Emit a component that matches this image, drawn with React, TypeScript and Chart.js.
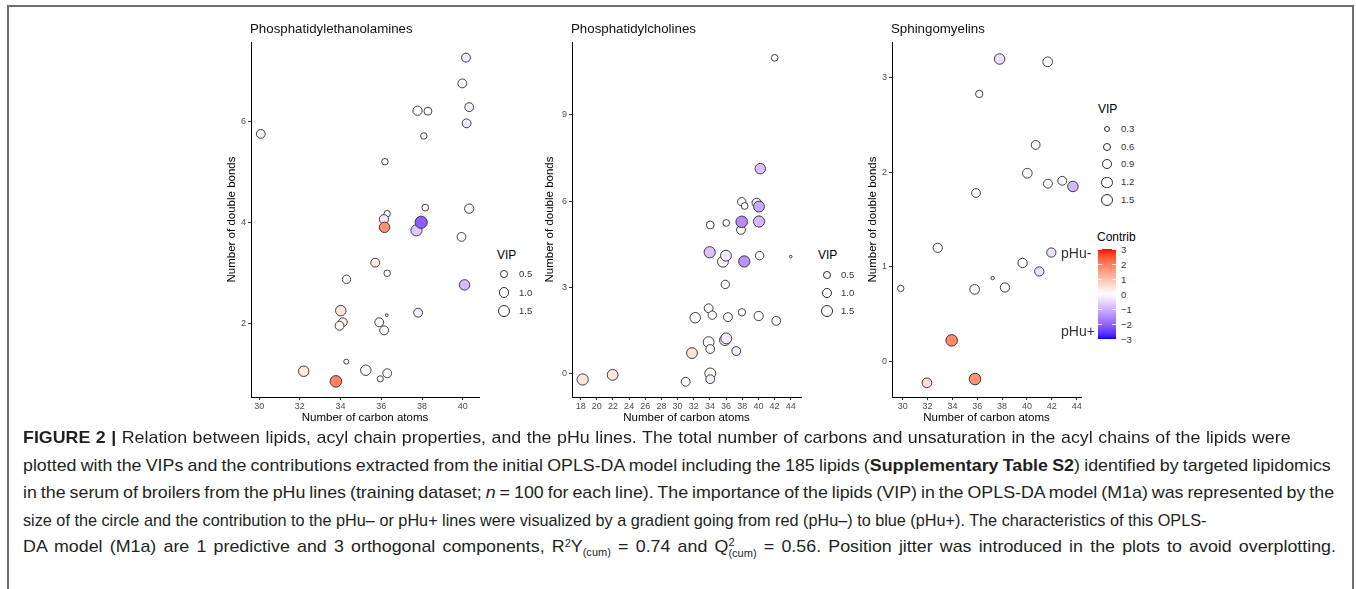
import React, { useEffect, useLayoutEffect, useRef } from "react";
import { Chart, registerables } from "chart.js";

Chart.register(...registerables);

const FONT = "'Liberation Sans', Arial, Helvetica, sans-serif";

// ---------------- Phosphatidylethanolamines ----------------
const peCarbons = [40.16, 39.98, 37.78, 38.29, 40.32, 40.19, 30.08, 38.09, 36.18, 38.16, 40.32, 36.29, 36.13, 36.16, 37.73, 37.96, 39.94, 35.7, 36.29, 34.29, 40.09, 34.01, 37.81, 36.27, 34.11, 33.95, 35.9, 36.14, 34.28, 32.19, 35.24, 36.29, 35.95, 33.77];
const peDoubleBonds = [7.27, 6.76, 6.22, 6.21, 6.29, 5.97, 5.76, 5.72, 5.21, 4.3, 4.28, 4.18, 4.07, 3.91, 3.85, 4.01, 3.72, 3.21, 3.0, 2.88, 2.77, 2.26, 2.22, 2.17, 2.03, 1.96, 2.03, 1.87, 1.25, 1.06, 1.08, 1.02, 0.91, 0.86];
const peVip = [0.9, 0.9, 1.0, 0.7, 0.9, 0.9, 0.9, 0.45, 0.45, 0.5, 1.0, 0.45, 1.0, 1.3, 1.5, 1.8, 0.9, 0.9, 0.45, 0.8, 1.3, 1.3, 0.9, 0.06, 0.9, 0.9, 0.9, 0.9, 0.25, 1.3, 1.3, 0.9, 0.4, 1.6];
const peContrib = [-0.3, 0, 0, 0, -0.2, -0.25, -0.2, 0, 0, 0, 0, 0, -0.3, 1.7, -0.7, -2.1, 0, 0.3, 0, 0, -0.9, 0.4, -0.2, 0, 0.3, 0, 0, 0, 0, 0.35, 0.15, 0, 0, 1.9];
const peXTicks = [30, 32, 34, 36, 38, 40];
const peYTicks = [2, 4, 6];
const peVipBreaks = [0.5, 1.0, 1.5];
const peVipLabels = ["0.5", "1.0", "1.5"];

// ---------------- Phosphatidylcholines ----------------
const pcCarbons = [42.01, 40.23, 37.93, 38.3, 39.78, 40.07, 34.04, 36.02, 37.84, 37.93, 40.07, 33.97, 35.61, 35.98, 38.25, 40.15, 44.0, 35.9, 33.84, 34.29, 32.18, 36.23, 37.96, 40.03, 42.21, 33.84, 35.86, 36.02, 34.04, 37.26, 31.78, 18.25, 21.96, 31.0, 34.04, 34.04];
const pcDoubleBonds = [10.99, 7.13, 5.98, 5.83, 5.94, 5.81, 5.17, 5.24, 5.0, 5.28, 5.29, 4.22, 3.89, 4.1, 3.9, 4.1, 4.07, 3.1, 2.27, 2.03, 1.94, 1.96, 2.13, 2.0, 1.83, 1.09, 1.16, 1.22, 0.85, 0.78, 0.71, -0.21, -0.05, -0.29, 0.0, -0.2];
const pcVip = [0.5, 1.3, 0.8, 0.5, 1.0, 1.4, 0.7, 0.5, 0.9, 1.6, 1.5, 1.5, 1.4, 1.4, 1.5, 0.8, 0.05, 0.8, 0.9, 0.8, 1.3, 0.9, 0.6, 1.0, 0.9, 1.4, 1.4, 1.4, 0.9, 0.9, 1.4, 1.5, 1.4, 0.9, 1.4, 0.9];
const pcContrib = [0, -0.8, 0, 0, -0.2, -1.1, 0, 0, 0, -1.5, -0.9, -0.8, 0, -0.3, -1.4, 0, 0, 0, 0, 0, 0, 0, 0, 0, 0, 0, 0, -0.3, 0, -0.25, 0.45, 0.4, 0.4, 0, 0, -0.25];
const pcXTicks = [18, 20, 22, 24, 26, 28, 30, 32, 34, 36, 38, 40, 42, 44];
const pcYTicks = [0, 3, 6, 9];
const pcVipBreaks = [0.5, 1.0, 1.5];
const pcVipLabels = ["0.5", "1.0", "1.5"];

// ---------------- Sphingomyelins ----------------
const smCarbons = [37.8, 41.67, 36.16, 40.7, 40.03, 41.69, 42.84, 43.7, 35.9, 32.82, 29.84, 35.79, 37.24, 38.23, 39.65, 40.99, 41.96, 33.94, 31.95, 35.82];
const smDoubleBonds = [3.2, 3.17, 2.83, 2.29, 1.99, 1.88, 1.91, 1.85, 1.78, 1.2, 0.77, 0.76, 0.88, 0.78, 1.04, 0.95, 1.15, 0.22, -0.23, -0.19];
const smVip = [1.3, 1.1, 0.6, 0.9, 1.1, 0.9, 0.9, 1.3, 0.9, 1.0, 0.45, 1.1, 0.1, 1.0, 1.0, 1.0, 1.0, 1.6, 1.1, 1.6];
const smContrib = [-0.4, 0, 0, 0, 0, 0, 0, -0.9, 0, 0, 0, 0, 0, 0, 0, -0.4, -0.4, 1.8, 0.5, 1.7];
const smXTicks = [30, 32, 34, 36, 38, 40, 42, 44];
const smYTicks = [0, 1, 2, 3];
const smVipBreaks = [0.3, 0.6, 0.9, 1.2, 1.5];
const smVipLabels = ["0.3", "0.6", "0.9", "1.2", "1.5"];

// ---------------- Contribution colour bar ----------------
const contribBreaks = [3, 2, 1, 0, -1, -2, -3];
const contribLabels = ["3", "2", "1", "0", "\u22121", "\u22122", "\u22123"];
const contribLimits = [-3, 3];

// ---------- colour helpers (Lab interpolation, as ggplot's gradient2) ----------
function srgb2lin(c: number) {
  c /= 255;
  return c <= 0.04045 ? c / 12.92 : Math.pow((c + 0.055) / 1.055, 2.4);
}
function lin2srgb(c: number) {
  const v = c <= 0.0031308 ? 12.92 * c : 1.055 * Math.pow(Math.max(c, 0), 1 / 2.4) - 0.055;
  return Math.round(Math.max(0, Math.min(1, v)) * 255);
}
function toLab(rgb: number[]) {
  const [r, g, b] = rgb.map(srgb2lin);
  const X = (0.4124564 * r + 0.3575761 * g + 0.1804375 * b) / 0.95047;
  const Y = 0.2126729 * r + 0.7151522 * g + 0.072175 * b;
  const Z = (0.0193339 * r + 0.119192 * g + 0.9503041 * b) / 1.08883;
  const f = (t: number) => (t > 216 / 24389 ? Math.cbrt(t) : ((24389 / 27) * t + 16) / 116);
  const fx = f(X), fy = f(Y), fz = f(Z);
  return [116 * fy - 16, 500 * (fx - fy), 200 * (fy - fz)];
}
function fromLab(lab: number[]) {
  const [L, a, b] = lab;
  const fy = (L + 16) / 116;
  const fx = fy + a / 500;
  const fz = fy - b / 200;
  const finv = (t: number) => (t * t * t > 216 / 24389 ? t * t * t : (116 * t - 16) / (24389 / 27));
  const X = finv(fx) * 0.95047, Y = finv(fy), Z = finv(fz) * 1.08883;
  const r = 3.2404542 * X - 1.5371385 * Y - 0.4985314 * Z;
  const g = -0.969266 * X + 1.8760108 * Y + 0.041556 * Z;
  const bb = 0.0556434 * X - 0.2040259 * Y + 1.0572252 * Z;
  return [lin2srgb(r), lin2srgb(g), lin2srgb(bb)];
}
const LAB_WHITE = toLab([255, 255, 255]);
const LAB_RED = toLab([255, 0, 0]);
const LAB_BLUE = toLab([0, 0, 255]);
function contribColor(v: number) {
  const t = Math.max(-1, Math.min(1, v / contribLimits[1]));
  const end = t >= 0 ? LAB_RED : LAB_BLUE;
  const k = Math.abs(t);
  const lab = LAB_WHITE.map((w, i) => w + (end[i] - w) * k);
  const [r, g, b] = fromLab(lab);
  return `rgb(${r},${g},${b})`;
}
function vipRadius(v: number) {
  return 0.35 + 5.6 * Math.sqrt(Math.max(v, 0) / 1.7);
}

// ---------------- chart panel ----------------
type PanelSpec = {
  title: string;
  left: number; top: number; width: number; height: number;
  area: { left: number; right: number; top: number; bottom: number };
  yTitleX: number; xTitleY: number;
  xs: number[]; ys: number[]; vip: number[]; contrib: number[];
  xMin: number; xMax: number; yMin: number; yMax: number;
  xTicks: number[]; yTicks: number[];
};

function Panel(p: PanelSpec) {
  const ref = useRef<HTMLCanvasElement>(null);
  useEffect(() => {
    const canvas = ref.current!;
    const titleSize = 11.5;
    const lh = titleSize * 1.2;
    const yAxisW = p.area.left - p.left;
    const padRight = p.left + p.width - p.area.right;
    const padTop = p.area.top - p.top;
    const xAxisH = p.top + p.height - p.area.bottom;
    const yTitlePad = p.yTitleX - p.left - lh / 2;
    const xTitlePad = p.top + p.height - p.xTitleY - lh / 2;
    const tickFont = { family: FONT, size: 9 };
    const chart = new Chart(canvas, {
      type: "bubble",
      data: {
        datasets: [
          {
            data: p.xs.map((x, i) => ({ x, y: p.ys[i], r: vipRadius(p.vip[i]) })),
            backgroundColor: p.contrib.map(contribColor),
            borderColor: "#2b2b2b",
            borderWidth: 0.9,
            hoverBorderWidth: 0.9,
            clip: false as any,
          } as any,
        ],
      },
      options: {
        animation: false,
        responsive: false,
        maintainAspectRatio: false,
        devicePixelRatio: 1,
        events: [],
        layout: { padding: { left: 0, right: padRight, top: padTop, bottom: 0 } },
        plugins: { legend: { display: false }, tooltip: { enabled: false }, title: { display: false } },
        scales: {
          x: {
            type: "linear",
            position: "bottom",
            min: p.xMin,
            max: p.xMax,
            afterBuildTicks: (s: any) => {
              s.ticks = p.xTicks.map((v) => ({ value: v }));
            },
            afterFit: (s: any) => {
              s.height = xAxisH;
            },
            grid: { display: true, drawOnChartArea: false, drawTicks: true, tickLength: 3, color: "#333333", lineWidth: 1 },
            border: { display: true, color: "#000000", width: 1 },
            ticks: { autoSkip: false, maxRotation: 0, minRotation: 0, padding: 1.5, color: "#4d4d4d", font: tickFont, callback: (v: any) => String(v) },
            title: { display: true, text: "Number of carbon atoms", color: "#000000", font: { family: FONT, size: titleSize }, padding: { top: 0, bottom: xTitlePad } },
          },
          y: {
            type: "linear",
            position: "left",
            min: p.yMin,
            max: p.yMax,
            afterBuildTicks: (s: any) => {
              s.ticks = p.yTicks.map((v) => ({ value: v }));
            },
            afterFit: (s: any) => {
              s.width = yAxisW;
            },
            grid: { display: true, drawOnChartArea: false, drawTicks: true, tickLength: 3, color: "#333333", lineWidth: 1 },
            border: { display: true, color: "#000000", width: 1 },
            ticks: { autoSkip: false, padding: 2, color: "#4d4d4d", font: tickFont, callback: (v: any) => String(v) },
            title: { display: true, text: "Number of double bonds", color: "#000000", font: { family: FONT, size: titleSize }, padding: { top: yTitlePad, bottom: 0 } },
          },
        },
      } as any,
    });
    return () => chart.destroy();
  }, []);
  return (
    <>
      <canvas
        ref={ref}
        width={p.width}
        height={p.height}
        style={{ position: "absolute", left: p.left, top: p.top, width: p.width, height: p.height }}
      />
      <Txt x={p.area.left - 1} cy={29} size={13.3} color="#111">
        {p.title}
      </Txt>
    </>
  );
}

function Txt(props: { x: number; cy: number; size: number; color?: string; children: React.ReactNode }) {
  return (
    <div
      style={{
        position: "absolute",
        left: props.x,
        top: props.cy,
        transform: "translateY(-50%)",
        fontFamily: FONT,
        fontSize: props.size,
        lineHeight: 1,
        color: props.color || "#000",
        whiteSpace: "nowrap",
      }}
    >
      {props.children}
    </div>
  );
}

function VipLegend(props: { titleX: number; titleCy: number; cx: number; cys: number[]; labelX: number; breaks: number[]; labels: string[] }) {
  return (
    <>
      <Txt x={props.titleX} cy={props.titleCy} size={12}>
        VIP
      </Txt>
      {props.breaks.map((b, i) => {
        const d = vipRadius(b) * 2 + 1;
        return (
          <React.Fragment key={i}>
            <div
              style={{
                position: "absolute",
                left: props.cx - d / 2,
                top: props.cys[i] - d / 2,
                width: d,
                height: d,
                boxSizing: "border-box",
                border: "1px solid #2b2b2b",
                borderRadius: "50%",
                background: "#fff",
              }}
            />
            <Txt x={props.labelX} cy={props.cys[i]} size={9.5} color="#333">
              {props.labels[i]}
            </Txt>
          </React.Fragment>
        );
      })}
    </>
  );
}

function ContribBar() {
  const left = 1098, top = 249, w = 18, h = 90;
  const stops: string[] = [];
  const n = 30;
  for (let i = 0; i <= n; i++) {
    const v = contribLimits[1] - ((contribLimits[1] - contribLimits[0]) * i) / n;
    stops.push(`${contribColor(v)} ${((i / n) * 100).toFixed(2)}%`);
  }
  const yOf = (v: number) => top + ((contribLimits[1] - v) / (contribLimits[1] - contribLimits[0])) * h;
  return (
    <>
      <Txt x={1097} cy={237} size={12}>
        Contrib
      </Txt>
      <div style={{ position: "absolute", left, top, width: w, height: h, background: `linear-gradient(to bottom, ${stops.join(",")})` }} />
      {contribBreaks.map((b, i) => (
        <React.Fragment key={i}>
          <div style={{ position: "absolute", left, top: yOf(b) - 0.5, width: 3.6, height: 1, background: "rgba(255,255,255,0.9)" }} />
          <div style={{ position: "absolute", left: left + w - 3.6, top: yOf(b) - 0.5, width: 3.6, height: 1, background: "rgba(255,255,255,0.9)" }} />
          <Txt x={1121} cy={yOf(b) + 1} size={9.5} color="#333">
            {contribLabels[i]}
          </Txt>
        </React.Fragment>
      ))}
      <Txt x={1061} cy={253} size={14} color="#333">
        pHu-
      </Txt>
      <Txt x={1061} cy={331} size={14} color="#333">
        pHu+
      </Txt>
    </>
  );
}

const captionLeft = 23;
const captionCy = [438, 466, 493, 521, 548];
const captionRight = [1291, 1331, 1334, 1206, 1336];
const captionJustified = [true, true, true, false, true];

function Caption() {
  const refs = useRef<(HTMLSpanElement | null)[]>([]);
  useLayoutEffect(() => {
    const els = refs.current;
    const widths = els.map((el) => (el ? el.offsetWidth : 1));
    const fitOf = (i: number) => (captionRight[i] - captionLeft) / widths[i];
    // common condensed scale: median of the per-line fits of the justified lines
    const fits = widths.map((_, i) => fitOf(i)).filter((_, i) => captionJustified[i]).sort((a, b) => a - b);
    const s = fits.length % 2 ? fits[(fits.length - 1) / 2] : (fits[fits.length / 2 - 1] + fits[fits.length / 2]) / 2;
    els.forEach((el, i) => {
      if (!el) return;
      let scale = fitOf(i);
      if (captionJustified[i]) {
        const target = (captionRight[i] - captionLeft) / s;
        const spaces = (el.textContent || "").split(" ").length - 1;
        if (spaces > 0) el.style.wordSpacing = `${(target - widths[i]) / spaces}px`;
        scale = (captionRight[i] - captionLeft) / el.offsetWidth;
      }
      el.style.transform = `translateY(-50%) scaleX(${scale})`;
    });
  }, []);
  const sub: React.CSSProperties = { fontSize: "0.62em", lineHeight: 0, position: "relative", top: "0.35em" };
  const sup: React.CSSProperties = { fontSize: "0.62em", lineHeight: 0, position: "relative", top: "-0.5em" };
  const lines: React.ReactNode[] = [
    <>
      <b>FIGURE 2 |</b> Relation between lipids, acyl chain properties, and the pHu lines. The total number of carbons and unsaturation in the acyl chains of the lipids were
    </>,
    <>
      plotted with the VIPs and the contributions extracted from the initial OPLS-DA model including the 185 lipids (<b>Supplementary Table S2</b>) identified by targeted lipidomics
    </>,
    <>
      in the serum of broilers from the pHu lines (training dataset; <i>n</i> = 100 for each line). The importance of the lipids (VIP) in the OPLS-DA model (M1a) was represented by the
    </>,
    <>size of the circle and the contribution to the pHu– or pHu+ lines were visualized by a gradient going from red (pHu–) to blue (pHu+). The characteristics of this OPLS-</>,
    <>
      DA model (M1a) are 1 predictive and 3 orthogonal components, R<span style={sup}>2</span>Y<span style={sub}>(cum)</span> = 0.74 and Q
      <span style={{ display: "inline-block", verticalAlign: "middle", fontSize: "0.62em", lineHeight: 1.05, textAlign: "left" }}>
        <span style={{ display: "block" }}>2</span>
        <span style={{ display: "block" }}>(cum)</span>
      </span>{" "}
      = 0.56. Position jitter was introduced in the plots to avoid overplotting.
    </>,
  ];
  return (
    <>
      {lines.map((ln, i) => (
        <span
          key={i}
          ref={(el) => {
            refs.current[i] = el;
          }}
          style={{
            position: "absolute",
            left: captionLeft,
            top: captionCy[i],
            display: "inline-block",
            whiteSpace: "nowrap",
            transform: "translateY(-50%)",
            transformOrigin: "0 50%",
            fontFamily: FONT,
            fontSize: 17,
            lineHeight: 1.2,
            color: "#231f20",
          }}
        >
          {ln}
        </span>
      ))}
    </>
  );
}

export default function App() {
  return (
    <div style={{ position: "absolute", left: 0, top: 0, width: 1356, height: 589, overflow: "hidden", background: "#fff" }}>
      <div style={{ position: "absolute", left: 7, top: 5, width: 1347, height: 700, border: "2px solid #6e6e6e", boxSizing: "border-box" }} />
      <Panel
        title="Phosphatidylethanolamines"
        left={200}
        top={10}
        width={290}
        height={420}
        area={{ left: 251, right: 479, top: 42, bottom: 397 }}
        yTitleX={232}
        xTitleY={418}
        xs={peCarbons}
        ys={peDoubleBonds}
        vip={peVip}
        contrib={peContrib}
        xMin={29.6}
        xMax={40.8}
        yMin={0.55}
        yMax={7.58}
        xTicks={peXTicks}
        yTicks={peYTicks}
      />
      <Panel
        title="Phosphatidylcholines"
        left={520}
        top={10}
        width={290}
        height={420}
        area={{ left: 572, right: 801, top: 42, bottom: 397 }}
        yTitleX={550}
        xTitleY={418}
        xs={pcCarbons}
        ys={pcDoubleBonds}
        vip={pcVip}
        contrib={pcContrib}
        xMin={16.93}
        xMax={45.27}
        yMin={-0.82}
        yMax={11.54}
        xTicks={pcXTicks}
        yTicks={pcYTicks}
      />
      <Panel
        title="Sphingomyelins"
        left={840}
        top={10}
        width={250}
        height={420}
        area={{ left: 892, right: 1081, top: 42, bottom: 397 }}
        yTitleX={873}
        xTitleY={418}
        xs={smCarbons}
        ys={smDoubleBonds}
        vip={smVip}
        contrib={smContrib}
        xMin={29.14}
        xMax={44.35}
        yMin={-0.38}
        yMax={3.38}
        xTicks={smXTicks}
        yTicks={smYTicks}
      />
      <VipLegend titleX={497} titleCy={255} cx={504} cys={[274, 292.5, 311]} labelX={519} breaks={peVipBreaks} labels={peVipLabels} />
      <VipLegend titleX={818} titleCy={255} cx={827} cys={[275, 293, 311]} labelX={841} breaks={pcVipBreaks} labels={pcVipLabels} />
      <VipLegend titleX={1098} titleCy={109} cx={1107} cys={[129, 146.7, 164.3, 182.3, 200]} labelX={1121} breaks={smVipBreaks} labels={smVipLabels} />
      <ContribBar />
      <Caption />
    </div>
  );
}
